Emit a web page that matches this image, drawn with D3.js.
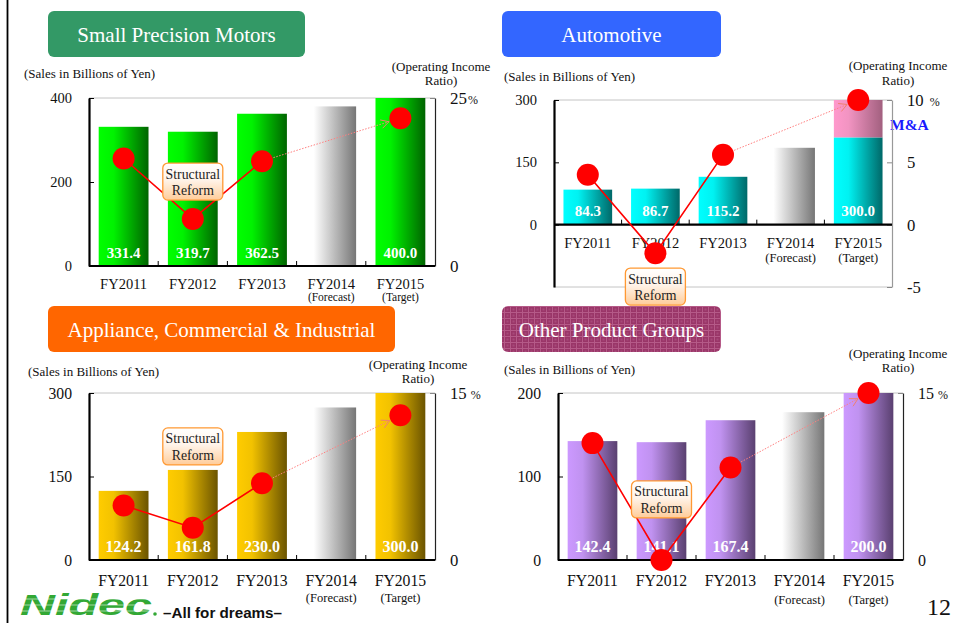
<!DOCTYPE html>
<html>
<head>
<meta charset="utf-8">
<script src="https://cdn.jsdelivr.net/npm/d3@7"></script>
<style>
  html, body { margin: 0; padding: 0; background: #fff; }
  svg { display: block; }
</style>
</head>
<body>
<svg id="chart" width="954" height="623"></svg>
<script>
// Fiscal years shown on every panel
const fiscalYears = ["FY2011", "FY2012", "FY2013", "FY2014", "FY2015"];
const yearNotes = ["", "", "", "(Forecast)", "(Target)"];
const labelledYears = ["FY2011", "FY2012", "FY2013", "FY2015"];

// Small Precision Motors: sales (billions of yen) and operating income ratio (%)
const motorSales = [331.4, 319.7, 362.5, 380.0, 400.0];
const motorRatio = [16.0, 7.0, 15.6, null, 22.0];
const motorSalesTicks = [0, 200, 400];
const motorRatioTicks = [0, 25];

// Automotive: organic sales, M&A contribution, ratio
const autoSales = [84.3, 86.7, 115.2, 185.0, 210.0];
const autoAcquired = [0, 0, 0, 0, 90.0];
const autoRatio = [4.0, -2.3, 5.6, null, 10.0];
const autoSalesTicks = [0, 150, 300];
const autoRatioTicks = [-5, 0, 5, 10];

// Appliance, Commercial & Industrial
const applianceSales = [124.2, 161.8, 230.0, 274.0, 300.0];
const applianceRatio = [4.9, 2.9, 6.9, null, 13.0];
const applianceSalesTicks = [0, 150, 300];
const applianceRatioTicks = [0, 15];

// Other Product Groups
const otherSales = [142.4, 141.1, 167.4, 177.0, 200.0];
const otherRatio = [10.5, 0.0, 8.3, null, 15.0];
const otherSalesTicks = [0, 100, 200];
const otherRatioTicks = [0, 15];

const SERIF = "'Liberation Serif', 'Times New Roman', serif";
const SANS = "'Liberation Sans', Arial, sans-serif";

const svg = d3.select("#chart");
const defs = svg.append("defs");

function hGradient(id, stops) {
  const lg = defs.append("linearGradient").attr("id", id)
    .attr("x1", "0").attr("y1", "0").attr("x2", "1").attr("y2", "0");
  stops.forEach(([o, c]) => lg.append("stop").attr("offset", o).attr("stop-color", c));
}
function vGradient(id, stops) {
  const lg = defs.append("linearGradient").attr("id", id)
    .attr("x1", "0").attr("y1", "0").attr("x2", "0").attr("y2", "1");
  stops.forEach(([o, c]) => lg.append("stop").attr("offset", o).attr("stop-color", c));
}

hGradient("gMotor", [[0, "#00ff00"], [0.3, "#00f200"], [1, "#006400"]]);
hGradient("gAuto", [[0, "#00ffff"], [0.3, "#00f2f2"], [1, "#006868"]]);
hGradient("gAcquired", [[0, "#ff99cc"], [0.3, "#f294c2"], [1, "#a2607f"]]);
hGradient("gAppliance", [[0, "#ffcc00"], [0.3, "#f2c200"], [1, "#6b5400"]]);
hGradient("gOther", [[0, "#cc99ff"], [0.3, "#c092f0"], [1, "#5a4070"]]);
hGradient("gForecast", [[0, "#ffffff"], [0.15, "#ffffff"], [1, "#767676"]]);
vGradient("gNote", [[0, "#ffffff"], [0.45, "#fff4ea"], [1, "#ffcc99"]]);

// woven texture for the "Other Product Groups" heading
const pat = defs.append("pattern").attr("id", "weave")
  .attr("width", 6).attr("height", 6).attr("patternUnits", "userSpaceOnUse");
pat.append("rect").attr("width", 6).attr("height", 6).attr("fill", "#9a3668");
pat.append("path").attr("d", "M0,0.5H6M0.5,0V6").attr("stroke", "#b55a88").attr("stroke-width", 1);
pat.append("rect").attr("x", 2.5).attr("y", 2.5).attr("width", 2).attr("height", 2).attr("fill", "#a8497a");

const panels = [
  {
    title: "Small Precision Motors", titleFill: "#339966",
    titleBox: { x: 48, y: 11, w: 257, h: 46 },
    plot: { l: 89, t: 98, r: 435, b: 266 },
    sales: motorSales, acquired: null, ratio: motorRatio,
    salesDomain: [0, 400], ratioDomain: [0, 25],
    salesTicks: motorSalesTicks, ratioTicks: motorRatioTicks,
    grad: "gMotor", fs: 14.5, valueFs: 15, rightFs: 17, pctGap: 1,
    fyDy: 23, noteDy: 35, noteFs: 11.5,
    salesNote: { x: 24, y: 77.5 }, ratioNote: { cx: 441, y: 70.5 },
    reformAt: 201, rightAxisColor: "#222"
  },
  {
    title: "Automotive", titleFill: "#3366ff",
    titleBox: { x: 502, y: 11, w: 219, h: 46 },
    plot: { l: 554, t: 100, r: 892, b: 287 },
    sales: autoSales, acquired: autoAcquired, ratio: autoRatio,
    salesDomain: [-150, 300], ratioDomain: [-5, 10],
    salesTicks: autoSalesTicks, ratioTicks: autoRatioTicks,
    grad: "gAuto", fs: 14.5, valueFs: 15, rightFs: 16.7, pctGap: 6,
    fyDy: 23, noteDy: 37.5, noteFs: 12.5,
    salesNote: { x: 504, y: 81 }, ratioNote: { cx: 898, y: 70 },
    reformAt: -149, rightAxisColor: "#999"
  },
  {
    title: "Appliance, Commercial & Industrial", titleFill: "#ff6600",
    titleBox: { x: 48, y: 306, w: 347, h: 46 },
    plot: { l: 89, t: 393, r: 435, b: 560 },
    sales: applianceSales, acquired: null, ratio: applianceRatio,
    salesDomain: [0, 300], ratioDomain: [0, 15],
    salesTicks: applianceSalesTicks, ratioTicks: applianceRatioTicks,
    grad: "gAppliance", fs: 15.7, valueFs: 16, rightFs: 16.7, pctGap: 4,
    fyDy: 26, noteDy: 41.5, noteFs: 12.5,
    salesNote: { x: 28, y: 376 }, ratioNote: { cx: 418, y: 368.5 },
    reformAt: 204, rightAxisColor: "#222"
  },
  {
    title: "Other Product Groups", titleFill: "url(#weave)",
    titleBox: { x: 502, y: 306, w: 219, h: 46 },
    plot: { l: 558, t: 393, r: 903, b: 560 },
    sales: otherSales, acquired: null, ratio: otherRatio,
    salesDomain: [0, 200], ratioDomain: [0, 15],
    salesTicks: otherSalesTicks, ratioTicks: otherRatioTicks,
    grad: "gOther", fs: 15.7, valueFs: 16, rightFs: 16, pctGap: 4,
    fyDy: 26, noteDy: 44, noteFs: 12.5,
    salesNote: { x: 504, y: 373.5 }, ratioNote: { cx: 898, y: 357.5 },
    reformAt: 72.5, rightAxisColor: "#222"
  }
];

function drawPanel(p) {
  const g = svg.append("g");
  const P = p.plot;

  // heading box
  g.append("rect")
    .attr("x", p.titleBox.x).attr("y", p.titleBox.y)
    .attr("width", p.titleBox.w).attr("height", p.titleBox.h)
    .attr("rx", 6).attr("fill", p.titleFill);
  g.append("text")
    .attr("x", p.titleBox.x + p.titleBox.w / 2)
    .attr("y", p.titleBox.y + p.titleBox.h / 2 + 8)
    .attr("text-anchor", "middle")
    .attr("font-family", SERIF).attr("font-size", 21)
    .attr("fill", "#ffffff")
    .text(p.title);

  // axis captions
  g.append("text")
    .attr("x", p.salesNote.x).attr("y", p.salesNote.y)
    .attr("font-family", SERIF).attr("font-size", 13).attr("fill", "#111")
    .text("(Sales in Billions of Yen)");
  const rn = g.append("text")
    .attr("text-anchor", "middle")
    .attr("font-family", SERIF).attr("font-size", 13).attr("fill", "#111");
  rn.append("tspan").attr("x", p.ratioNote.cx).attr("y", p.ratioNote.y).text("(Operating Income");
  rn.append("tspan").attr("x", p.ratioNote.cx).attr("y", p.ratioNote.y + 14.5).text("Ratio)");

  const x = d3.scaleBand().domain(fiscalYears).range([P.l, P.r])
    .paddingInner(0.28).paddingOuter(0.14);
  const y = d3.scaleLinear().domain(p.salesDomain).range([P.b, P.t]);
  const yR = d3.scaleLinear().domain(p.ratioDomain).range([P.b, P.t]);
  const y0 = y(0);
  const bw = x.bandwidth();
  const cx = d => x(d) + bw / 2;

  // plot frame (top and bottom edges)
  g.append("line").attr("x1", P.l).attr("x2", P.r).attr("y1", P.t).attr("y2", P.t)
    .attr("stroke", "#c4c4c4").attr("stroke-width", 1);
  if (y0 !== P.b) {
    g.append("line").attr("x1", P.l).attr("x2", P.r).attr("y1", P.b).attr("y2", P.b)
      .attr("stroke", "#c4c4c4").attr("stroke-width", 1);
  }

  // sales bars
  g.selectAll("rect.bar").data(p.sales).join("rect").attr("class", "bar")
    .attr("x", (d, i) => x(fiscalYears[i]))
    .attr("width", bw)
    .attr("y", d => y(d))
    .attr("height", d => y0 - y(d))
    .attr("fill", (d, i) => fiscalYears[i] === "FY2014" ? "url(#gForecast)" : `url(#${p.grad})`);

  // acquisition (M&A) portion stacked on top
  if (p.acquired) {
    g.selectAll("rect.acq").data(p.acquired.map((a, i) => ({ a, i })).filter(d => d.a > 0))
      .join("rect").attr("class", "acq")
      .attr("x", d => x(fiscalYears[d.i]))
      .attr("width", bw)
      .attr("y", d => y(p.sales[d.i] + d.a))
      .attr("height", d => y(p.sales[d.i]) - y(p.sales[d.i] + d.a))
      .attr("fill", "url(#gAcquired)");
    const mi = p.acquired.findIndex(a => a > 0);
    g.append("text")
      .attr("x", P.r - 2)
      .attr("y", (y(p.sales[mi]) + y(p.sales[mi] + p.acquired[mi])) / 2 + 11)
      .attr("font-family", SERIF).attr("font-size", 15.5).attr("font-weight", "bold")
      .attr("fill", "#1a1aff")
      .text("M&A");
  }

  // value labels inside bars
  g.selectAll("text.val")
    .data(fiscalYears.map((fy, i) => ({ fy, v: p.sales[i] + (p.acquired ? p.acquired[i] : 0) }))
      .filter(d => labelledYears.includes(d.fy)))
    .join("text").attr("class", "val")
    .attr("x", d => cx(d.fy))
    .attr("y", y0 - 8.5)
    .attr("text-anchor", "middle")
    .attr("font-family", SERIF).attr("font-size", p.valueFs).attr("font-weight", "bold")
    .attr("fill", "#ffffff")
    .text(d => d.v.toFixed(1));

  // left (sales) axis
  const la = g.append("g").attr("transform", `translate(${P.l},0)`)
    .call(d3.axisLeft(y).tickValues(p.salesTicks).tickFormat(d => String(d))
      .tickSizeInner(-5).tickSizeOuter(0).tickPadding(17));
  la.select(".domain").attr("stroke", "#000").attr("stroke-width", 2.2);
  la.selectAll(".tick line").attr("stroke", "#000").attr("stroke-width", 1);
  la.selectAll(".tick text").attr("font-family", SERIF).attr("font-size", p.fs).attr("fill", "#111");

  // right (ratio) axis
  const ra = g.append("g").attr("transform", `translate(${P.r},0)`)
    .call(d3.axisRight(yR).tickValues(p.ratioTicks).tickFormat(d => String(d))
      .tickSizeInner(-5).tickSizeOuter(0).tickPadding(15));
  ra.select(".domain").attr("stroke", p.rightAxisColor).attr("stroke-width", 1.2);
  ra.selectAll(".tick line").attr("stroke", "#888").attr("stroke-width", 1);
  ra.selectAll(".tick text").attr("font-family", SERIF).attr("font-size", p.rightFs).attr("fill", "#111");
  const topTick = d3.max(p.ratioTicks);
  ra.selectAll(".tick text").filter(d => d === topTick)
    .append("tspan").attr("dx", p.pctGap).attr("font-size", 12).text("%");

  // category axis along zero
  g.append("line").attr("x1", P.l).attr("x2", P.r).attr("y1", y0).attr("y2", y0)
    .attr("stroke", "#000").attr("stroke-width", 2.2);
  const bounds = fiscalYears.slice(1).map(fy => x(fy) - x.step() * x.paddingInner() / 2);
  g.selectAll("line.sep").data(bounds).join("line").attr("class", "sep")
    .attr("x1", d => d).attr("x2", d => d).attr("y1", y0).attr("y2", y0 - 5)
    .attr("stroke", "#000").attr("stroke-width", 1);
  const xa = g.append("g").attr("transform", `translate(0,${y0})`)
    .call(d3.axisBottom(x).tickSize(0).tickPadding(0));
  xa.select(".domain").remove();
  xa.selectAll(".tick text")
    .attr("y", p.fyDy).attr("dy", null)
    .attr("font-family", SERIF).attr("font-size", p.fs).attr("fill", "#111");
  xa.selectAll(".tick").append("text")
    .attr("y", p.noteDy).attr("text-anchor", "middle")
    .attr("font-family", SERIF).attr("font-size", p.noteFs).attr("fill", "#111")
    .text(d => yearNotes[fiscalYears.indexOf(d)]);

  // operating income ratio: actual results
  const pts = fiscalYears.map((fy, i) => ({ fy, r: p.ratio[i] })).filter(d => d.r !== null);
  const actual = pts.filter(d => d.fy !== "FY2015");
  g.append("path")
    .attr("d", d3.line().x(d => cx(d.fy)).y(d => yR(d.r))(actual))
    .attr("fill", "none").attr("stroke", "#ff0000").attr("stroke-width", 1.6);

  // dotted trend toward the target, ending with an open arrow head
  const a = actual[actual.length - 1];
  const t = pts[pts.length - 1];
  const ax = cx(a.fy), ay = yR(a.r), tx = cx(t.fy), ty = yR(t.r);
  const len = Math.hypot(tx - ax, ty - ay);
  const ux = (tx - ax) / len, uy = (ty - ay) / len;
  const ex = tx - ux * 12, ey = ty - uy * 12;
  g.append("line").attr("x1", ax).attr("y1", ay).attr("x2", ex).attr("y2", ey)
    .attr("stroke", "#ff8080").attr("stroke-width", 1).attr("stroke-dasharray", "1.5,1.5");
  const ang = Math.atan2(uy, ux);
  [0.5, -0.5].forEach(da => {
    g.append("line").attr("x1", ex).attr("y1", ey)
      .attr("x2", ex - 9 * Math.cos(ang + da)).attr("y2", ey - 9 * Math.sin(ang + da))
      .attr("stroke", "#f08070").attr("stroke-width", 1);
  });

  // "Structural Reform" call-out at FY2012
  const bx = cx("FY2012"), by = y(p.reformAt);
  g.append("rect").attr("x", bx - 30).attr("y", by - 18.5).attr("width", 60).attr("height", 37)
    .attr("rx", 5).attr("fill", "url(#gNote)").attr("stroke", "#ff9933").attr("stroke-width", 1.3);
  const nt = g.append("text").attr("text-anchor", "middle")
    .attr("font-family", SERIF).attr("font-size", 13.8).attr("fill", "#222");
  nt.append("tspan").attr("x", bx).attr("y", by - 3).text("Structural");
  nt.append("tspan").attr("x", bx).attr("y", by + 13.5).text("Reform");

  // ratio markers
  g.selectAll("circle.pt").data(pts).join("circle").attr("class", "pt")
    .attr("cx", d => cx(d.fy)).attr("cy", d => yR(d.r)).attr("r", 11)
    .attr("fill", "#ff0000");
}

panels.forEach(drawPanel);

// page furniture
svg.append("line").attr("x1", 7.5).attr("x2", 7.5).attr("y1", 0).attr("y2", 623)
  .attr("stroke", "#000").attr("stroke-width", 1.8);

svg.append("text")
  .attr("x", 951).attr("y", 615).attr("text-anchor", "end")
  .attr("font-family", SERIF).attr("font-size", 24).attr("fill", "#111")
  .text("12");

const logo = svg.append("g");
logo.append("text")
  .attr("x", 20).attr("y", 615)
  .attr("font-family", SANS).attr("font-size", 30).attr("font-weight", "bold")
  .attr("font-style", "italic")
  .attr("textLength", 132).attr("lengthAdjust", "spacingAndGlyphs")
  .attr("fill", "#33a835")
  .text("Nidec");
[599, 605, 611].forEach(yy => {
  logo.append("line").attr("x1", 18).attr("x2", 156).attr("y1", yy).attr("y2", yy)
    .attr("stroke", "#ffffff").attr("stroke-width", 0.8).attr("opacity", 0.7);
});
logo.append("circle").attr("cx", 155).attr("cy", 614).attr("r", 1.8).attr("fill", "#33a835");
logo.append("text")
  .attr("x", 163).attr("y", 618)
  .attr("font-family", SANS).attr("font-size", 14).attr("font-weight", "bold")
  .attr("textLength", 119).attr("lengthAdjust", "spacingAndGlyphs")
  .attr("fill", "#111")
  .text("–All for dreams–");
</script>
</body>
</html>
